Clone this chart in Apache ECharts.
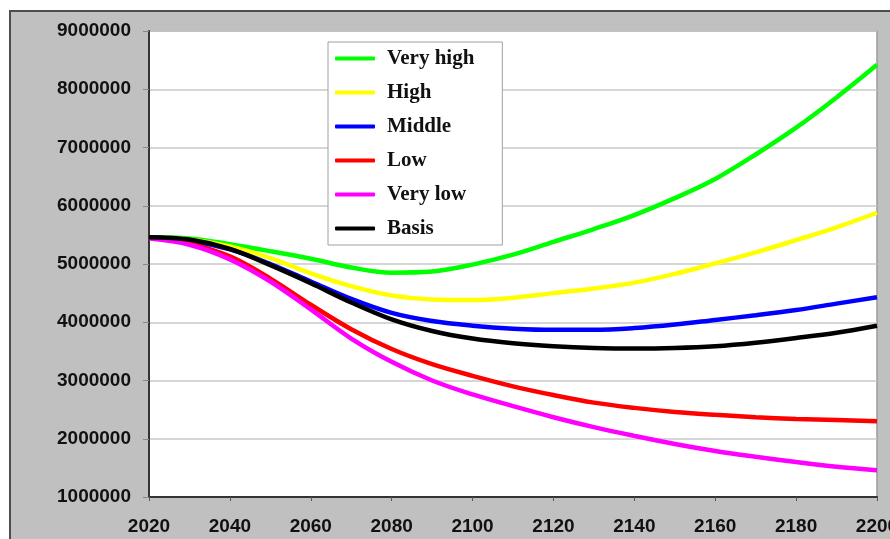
<!DOCTYPE html>
<html>
<head>
<meta charset="utf-8">
<script src="https://cdn.jsdelivr.net/npm/echarts@6/dist/echarts.min.js"></script>
<style>html,body{margin:0;padding:0;background:#fff}#c{width:890px;height:539px}</style>
</head>
<body>
<div id="c"></div>
<script>
const years = [2020,2030,2040,2050,2060,2070,2080,2090,2100,2110,2120,2130,2140,2150,2160,2170,2180,2190,2200];
const seriesNames = ['Very high','High','Middle','Low','Very low','Basis'];
const veryHigh = [5.46,5.44,5.34,5.22,5.09,4.94,4.85,4.87,4.99,5.16,5.38,5.60,5.84,6.13,6.46,6.88,7.34,7.86,8.42];
const high     = [5.46,5.42,5.30,5.10,4.84,4.62,4.46,4.39,4.38,4.42,4.50,4.58,4.68,4.83,5.01,5.20,5.41,5.63,5.88];
const middle   = [5.46,5.40,5.25,5.00,4.70,4.40,4.16,4.02,3.94,3.89,3.87,3.87,3.90,3.96,4.04,4.12,4.21,4.32,4.43];
const low      = [5.45,5.35,5.13,4.75,4.30,3.88,3.54,3.28,3.08,2.90,2.75,2.62,2.53,2.46,2.41,2.37,2.34,2.32,2.30];
const veryLow  = [5.44,5.33,5.08,4.70,4.22,3.72,3.32,3.00,2.76,2.56,2.37,2.20,2.05,1.91,1.79,1.69,1.60,1.52,1.46];
const basis    = [5.46,5.42,5.26,4.98,4.67,4.34,4.05,3.85,3.72,3.64,3.59,3.56,3.55,3.56,3.59,3.65,3.73,3.82,3.94];
const yTicks = [1000000,2000000,3000000,4000000,5000000,6000000,7000000,8000000,9000000];
const xTicks = [2020,2040,2060,2080,2100,2120,2140,2160,2180,2200];

const allValues = [veryHigh, high, middle, low, veryLow, basis];
const colors = ['#00ff00','#ffff00','#0000ff','#ff0000','#ff00ff','#000000'];

const chart = echarts.init(document.getElementById('c'), null, {renderer:'canvas'});
const series = seriesNames.map((n,i)=>({
  name: n,
  type: 'line',
  smooth: 0.35,
  showSymbol: false,
  symbol: 'none',
  clip: true,
  lineStyle: {color: colors[i], width: 4.5},
  itemStyle: {color: colors[i]},
  data: years.map((y,j)=>[y, allValues[i][j]*1000000])
}));

chart.setOption({
  animation: false,
  backgroundColor: '#ffffff',
  graphic: [{
    type: 'rect', z: -10, silent: true,
    shape: {x: 10, y: 11, width: 900, height: 560},
    style: {fill: '#c0c0c0', stroke: '#4d4d4d', lineWidth: 2}
  }],
  grid: {
    left: 149, top: 31, right: 13, bottom: 42,
    outerBoundsMode: 'none',
    containLabel: false,
    show: true, backgroundColor: '#ffffff', borderColor: '#9a9a9a', borderWidth: 1.5
  },
  legend: {
    orient: 'vertical',
    left: 328, top: 42,
    data: seriesNames,
    icon: 'roundRect',
    itemWidth: 40, itemHeight: 4,
    itemGap: 13,
    padding: [6, 28, 6, 7],
    backgroundColor: '#ffffff',
    borderColor: '#a0a0a0', borderWidth: 1,
    textStyle: {fontFamily: 'Liberation Serif', fontWeight: 'bold', fontSize: 21, color: '#111', padding: [0,0,0,7]}
  },
  xAxis: {
    type: 'value', min: 2020, max: 2200, interval: 20,
    axisLine: {show: true, onZero: false, lineStyle: {color: '#333', width: 2}},
    axisTick: {show: true, length: 4, lineStyle: {color: '#555'}},
    splitLine: {show: false},
    axisLabel: {margin: 20, fontFamily: 'Liberation Sans', fontWeight: 'bold', fontSize: 19, color: '#111',
      formatter: v => xTicks.includes(v) ? String(v) : ''}
  },
  yAxis: {
    type: 'value', min: 1000000, max: 9000000, interval: 1000000,
    axisLine: {show: true, lineStyle: {color: '#333', width: 2}},
    axisTick: {show: true, length: 6, lineStyle: {color: '#888'}},
    splitLine: {show: true, lineStyle: {color: '#c8c8c8', width: 1.5}},
    axisLabel: {margin: 18, fontFamily: 'Liberation Sans', fontWeight: 'bold', fontSize: 19, color: '#111',
      formatter: v => yTicks.includes(v) ? String(v) : ''}
  },
  series: series
});
</script>
</body>
</html>
